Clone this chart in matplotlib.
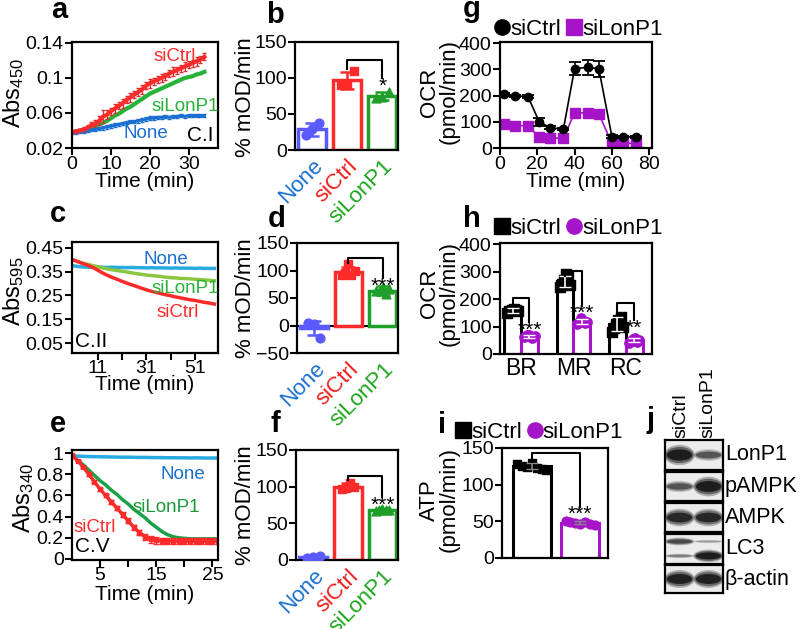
import matplotlib
matplotlib.use('Agg')
import matplotlib.pyplot as plt
from matplotlib.patches import Ellipse
from matplotlib.lines import Line2D
import numpy as np

plt.rcParams['font.family'] = ['Liberation Sans', 'DejaVu Sans']
plt.rcParams['mathtext.default'] = 'regular'

# ---- colours
RED = '#ff2a2a'
GREEN = '#1f9e2a'
LGREEN = '#26b33a'
BLUE = '#1a6fd0'
BARBLUE = '#5a5aff'
SKY = '#29abe2'
YGREEN = '#8cc63f'
PURPLE = '#a514c8'

# ---- panel a (complex I)
a_time = [0, 1, 2, 3, 4, 5, 6, 7, 8, 9, 10, 11, 12, 13, 14, 15, 16, 17, 18, 19, 20,
          21, 22, 23, 24, 25, 26, 27, 28, 29, 30, 31, 32, 33, 34]
a_ctrl = [0.038, 0.039, 0.040, 0.041, 0.043, 0.046, 0.048, 0.051, 0.056, 0.058, 0.062,
          0.065, 0.068, 0.071, 0.075, 0.078, 0.081, 0.084, 0.087, 0.091, 0.094, 0.096,
          0.098, 0.100, 0.102, 0.105, 0.107, 0.109, 0.111, 0.113, 0.115, 0.117, 0.119,
          0.121, 0.124]
a_ctrl_err = [0.001, 0.002, 0.002, 0.003, 0.003, 0.004, 0.004, 0.005, 0.007, 0.005, 0.004,
              0.005, 0.004, 0.005, 0.004, 0.005, 0.004, 0.005, 0.005, 0.004, 0.005, 0.004,
              0.004, 0.005, 0.004, 0.004, 0.005, 0.004, 0.004, 0.005, 0.004, 0.004, 0.005,
              0.004, 0.004]
a_lon = [0.038, 0.039, 0.040, 0.041, 0.042, 0.043, 0.045, 0.047, 0.049, 0.051, 0.054,
         0.057, 0.059, 0.062, 0.065, 0.067, 0.070, 0.073, 0.076, 0.079, 0.082, 0.084,
         0.086, 0.088, 0.090, 0.092, 0.094, 0.096, 0.098, 0.100, 0.101, 0.102, 0.104,
         0.105, 0.107]
a_none = [0.038, 0.038, 0.039, 0.039, 0.040, 0.041, 0.041, 0.042, 0.043, 0.044, 0.045,
          0.046, 0.047, 0.048, 0.049, 0.050, 0.050, 0.051, 0.052, 0.053, 0.054, 0.054,
          0.055, 0.055, 0.056, 0.055, 0.056, 0.056, 0.057, 0.056, 0.057, 0.057, 0.057,
          0.057, 0.057]

# ---- panel c (complex II)
c_time = [1, 3, 5, 7, 9, 11, 13, 15, 17, 19, 21, 23, 25, 27, 29, 31, 33, 35, 37, 39,
          41, 43, 45, 47, 49, 51, 53, 55, 57, 59]
c_none = [0.375, 0.372, 0.370, 0.369, 0.369, 0.370, 0.369, 0.368, 0.369, 0.368, 0.368,
          0.367, 0.368, 0.367, 0.367, 0.366, 0.367, 0.366, 0.366, 0.366, 0.365, 0.366,
          0.365, 0.365, 0.365, 0.364, 0.365, 0.364, 0.364, 0.364]
c_lon = [0.398, 0.392, 0.386, 0.381, 0.376, 0.371, 0.366, 0.362, 0.358, 0.355, 0.352,
         0.349, 0.345, 0.342, 0.339, 0.336, 0.334, 0.332, 0.330, 0.327, 0.325, 0.324,
         0.322, 0.321, 0.320, 0.318, 0.317, 0.315, 0.314, 0.312]
c_ctrl = [0.400, 0.392, 0.384, 0.377, 0.368, 0.357, 0.345, 0.335, 0.326, 0.318, 0.310,
          0.302, 0.295, 0.288, 0.281, 0.274, 0.268, 0.263, 0.258, 0.253, 0.249, 0.244,
          0.240, 0.236, 0.232, 0.229, 0.225, 0.221, 0.218, 0.214]

# ---- panel e (complex V)
e_time = [0, 1, 2, 3, 4, 5, 6, 7, 8, 9, 10, 11, 12, 13, 14, 15, 16, 17, 18, 19, 20,
          21, 22, 23, 24, 25, 26]
e_ctrl = [0.98, 0.93, 0.87, 0.80, 0.73, 0.66, 0.60, 0.54, 0.48, 0.42, 0.36, 0.30, 0.25,
          0.21, 0.185, 0.175, 0.172, 0.171, 0.170, 0.170, 0.170, 0.169, 0.170, 0.169,
          0.170, 0.169, 0.170]
e_ctrl_err = [0.005, 0.008, 0.010, 0.012, 0.014, 0.015, 0.016, 0.018, 0.020, 0.022,
              0.024, 0.025, 0.026, 0.028, 0.030, 0.030, 0.030, 0.031, 0.030, 0.031,
              0.030, 0.031, 0.030, 0.030, 0.031, 0.030, 0.030]
e_lon = [0.98, 0.93, 0.89, 0.84, 0.79, 0.74, 0.70, 0.65, 0.61, 0.56, 0.52, 0.47, 0.43,
         0.39, 0.34, 0.30, 0.26, 0.23, 0.21, 0.20, 0.195, 0.19, 0.19, 0.19, 0.19, 0.19,
         0.19]
e_none = [0.975, 0.972, 0.970, 0.968, 0.967, 0.966, 0.965, 0.964, 0.963, 0.962, 0.962,
          0.961, 0.960, 0.960, 0.959, 0.958, 0.958, 0.957, 0.957, 0.956, 0.956, 0.955,
          0.956, 0.955, 0.954, 0.954, 0.954]

# ---- bar panels b, d, f (% mOD/min)
groups = ['None', 'siCtrl', 'siLonP1']
b_mean = [29, 97, 75]
b_err = [9, 12, 6]
b_pts = [[21, 29, 37], [90, 92, 110], [72, 73, 80]]
d_mean = [-5, 97, 63]
d_err = [13, 9, 8]
d_pts = [[4, 2, -22], [92, 95, 112, 92, 100], [62, 65, 70, 58, 66]]
f_mean = [4, 100, 68]
f_err = [1, 5, 1.5]
f_pts = [[3, 4, 5], [97, 98, 105, 100], [67, 68, 69, 68, 68]]

# ---- panel g (OCR trace)
g_time = [2, 8, 15, 21, 27, 34, 40, 47, 53, 60, 66, 73]
g_ctrl = [205, 198, 196, 100, 77, 72, 303, 307, 302, 43, 42, 42]
g_ctrl_err = [5, 5, 5, 15, 5, 5, 25, 30, 30, 5, 4, 4]
g_lon = [92, 85, 85, 42, 38, 37, 135, 133, 130, 18, 18, 18]

# ---- panel h (OCR summary)
h_cats = ['BR', 'MR', 'RC']
h_ctrl = [158, 265, 108]
h_ctrl_err = [8, 20, 25]
h_ctrl_pts = [[150, 155, 160, 165, 160, 155], [245, 255, 270, 290, 280, 250],
              [80, 95, 110, 125, 135, 100]]
h_lon = [65, 118, 50]
h_lon_err = [5, 8, 8]
h_lon_pts = [[62, 68, 70, 60, 65], [110, 115, 130, 120, 112, 118], [40, 48, 55, 60, 45, 52]]

# ---- panel i (ATP)
i_mean = [125, 48]
i_err = [4, 2]
i_pts = [[128, 126, 124, 130, 123, 122, 120], [50, 49, 48, 47, 49, 46, 45]]

# ---- panel j (blot band intensities, lanes siCtrl / siLonP1)
blot_rows = ['LonP1', 'pAMPK', 'AMPK', 'LC3', 'β-actin']
blot_lonp1 = [0.95, 0.55]
blot_pampk = [0.55, 0.95]
blot_ampk = [0.85, 0.85]
blot_lc3_upper = [0.6, 0.25]
blot_lc3_lower = [0.35, 0.95]
blot_actin = [0.9, 0.9]

W, H = 800, 629
TICK = 14
XLAB = 15
YLAB = 16
fig = plt.figure(figsize=(8, 6.29), dpi=100)


def px_axes(l, t, r, b):
    return fig.add_axes([l / W, 1 - b / H, (r - l) / W, (b - t) / H])


def ftext(x, y, s, **kw):
    fig.text(x / W, 1 - y / H, s, **kw)


def style(ax):
    for s in ax.spines.values():
        s.set_linewidth(1.6)
    ax.tick_params(direction='out', length=5, width=1.5, labelsize=TICK, pad=1)


def bar_panel(ax, means, errs, pts, ylim, yticks):
    colors = [BARBLUE, RED, GREEN]
    markers = ['o', 's', '^']
    for k in range(len(means)):
        ax.bar(k, means[k], width=0.8, facecolor='white', edgecolor=colors[k],
               linewidth=2.5, zorder=2)
        ax.errorbar(k, means[k], yerr=errs[k], color=colors[k], capsize=5, lw=1.8,
                    capthick=1.8, zorder=3)
        n = len(pts[k])
        ax.scatter(k + np.linspace(-0.18, 0.18, n), pts[k], marker=markers[k], s=40,
                   color=colors[k], zorder=4)
    ax.set_xlim(-0.5, 2.45)
    ax.set_ylim(*ylim)
    ax.set_yticks(yticks)
    style(ax)
    ax.set_xticks(range(3))
    ax.set_xticklabels(groups, rotation=45, ha='right', rotation_mode='anchor', fontsize=16)
    for lab, c in zip(ax.get_xticklabels(), [BLUE, '#ee1c1c', '#1fa51f']):
        lab.set_color(c)
    ax.tick_params(axis='x', length=0, pad=4)


def bracket(ax, x0, x1, top, y0, y1, star):
    ax.plot([x0, x0, x1, x1], [y0, top, top, y1], color='black', lw=1.5, zorder=5)
    ax.annotate(star, (x1, y1), xytext=(0, 1), textcoords='offset points',
                ha='center', va='top', fontsize=15, zorder=6)


def legend2(ax, m1, c1, m2, c2, anchor, loc='lower center'):
    handles = [Line2D([], [], marker=m1, color=c1, ls='none', ms=11),
               Line2D([], [], marker=m2, color=c2, ls='none', ms=11)]
    ax.legend(handles, ['siCtrl', 'siLonP1'], ncol=2, frameon=False, fontsize=16,
              loc=loc, bbox_to_anchor=anchor, handlelength=0.6,
              handletextpad=0.05, columnspacing=0.3, borderaxespad=0, borderpad=0.1)


# ================= panel a
ax = px_axes(72, 42, 218, 148)
ax.errorbar(a_time, a_none, yerr=0.002, color=BLUE, lw=2.2, elinewidth=0.8, capsize=1.5)
ax.plot(a_time, a_lon, color=LGREEN, lw=3)
ax.errorbar(a_time, a_ctrl, yerr=a_ctrl_err, color=RED, lw=3, elinewidth=0.9,
            capsize=1.5, ecolor='#d83030')
ax.set_xlim(0, 37.5)
ax.set_ylim(0.02, 0.141)
ax.set_xticks([0, 10, 20, 30])
ax.set_yticks([0.02, 0.06, 0.1, 0.14])
ax.set_yticklabels(['0.02', '0.06', '0.1', '0.14'])
style(ax)
ax.text(26.4, 0.125, 'siCtrl', color=RED, fontsize=13.5, ha='center', va='center')
ax.text(29.2, 0.067, 'siLonP1', color=LGREEN, fontsize=13.5, ha='center', va='center')
ax.text(19.1, 0.036, 'None', color=BLUE, fontsize=13.5, ha='center', va='center')
ax.text(0.97, 0.03, 'C.I', transform=ax.transAxes, fontsize=15, ha='right', va='bottom')
ftext(14, 93, 'Abs$_{450}$', rotation=90, ha='center', va='center', fontsize=17)
ftext(145, 181, 'Time (min)', ha='center', va='center', fontsize=XLAB)

# ================= panel b
ax = px_axes(295, 42, 398, 150)
bar_panel(ax, b_mean, b_err, b_pts, (0, 150), [0, 50, 100, 150])
bracket(ax, 1, 2, 125, 113, 100, '*')
ftext(245, 97, '% mOD/min', rotation=90, ha='center', va='center', fontsize=YLAB)

# ================= panel c
ax = px_axes(72, 242, 218, 353)
ax.plot(c_time, c_none, color=SKY, lw=2.5)
ax.plot(c_time, c_lon, color=YGREEN, lw=2.5)
ax.plot(c_time, c_ctrl, color=RED, lw=2.5)
ax.set_xlim(0.5, 60.5)
ax.set_ylim(0.008, 0.475)
ax.set_xticks([11, 31, 51])
ax.set_xticks([21, 41], minor=True)
ax.set_yticks([0.05, 0.15, 0.25, 0.35, 0.45])
style(ax)
ax.tick_params(axis='x', pad=0)
ax.tick_params(which='minor', direction='out', length=5, width=1.5)
ax.text(39, 0.40, 'None', color=BLUE, fontsize=13.5, ha='center', va='center')
ax.text(47, 0.28, 'siLonP1', color=LGREEN, fontsize=13.5, ha='center', va='center')
ax.text(44, 0.18, 'siCtrl', color=RED, fontsize=13.5, ha='center', va='center')
ax.text(0.02, 0.02, 'C.II', transform=ax.transAxes, fontsize=15, ha='left', va='bottom')
ftext(14, 291, 'Abs$_{595}$', rotation=90, ha='center', va='center', fontsize=17)
ftext(145, 385, 'Time (min)', ha='center', va='center', fontsize=XLAB)

# ================= panel d
ax = px_axes(297, 243, 398, 353)
bar_panel(ax, d_mean, d_err, d_pts, (-50, 150), [-50, 0, 50, 100, 150])
ax.axhline(0, color='black', lw=1.5, zorder=1)
bracket(ax, 1, 2, 123, 114, 86, '***')
ftext(245, 298, '% mOD/min', rotation=90, ha='center', va='center', fontsize=YLAB)

# ================= panel e
ax = px_axes(72, 450, 218, 560)
ax.plot(e_time, e_none, color=SKY, lw=2.5)
ax.plot(e_time, e_lon, color='#1aa24a', lw=2.5)
ax.errorbar(e_time, e_ctrl, yerr=e_ctrl_err, color=RED, lw=2.5, elinewidth=1,
            capsize=2, marker='s', ms=3)
ax.set_xlim(0, 26)
ax.set_ylim(-0.01, 1.03)
ax.set_xticks([5, 15, 25])
ax.set_xticks([10, 20], minor=True)
ax.set_yticks([0, 0.2, 0.4, 0.6, 0.8, 1])
ax.set_yticklabels(['0', '0.2', '0.4', '0.6', '0.8', '1'])
style(ax)
ax.tick_params(axis='x', pad=0)
ax.tick_params(which='minor', direction='out', length=5, width=1.5)
ax.text(19.8, 0.80, 'None', color=BLUE, fontsize=13.5, ha='center', va='center')
ax.text(16.8, 0.49, 'siLonP1', color='#1a9a3a', fontsize=13.5, ha='center', va='center')
ax.text(4.1, 0.30, 'siCtrl', color=RED, fontsize=13.5, ha='center', va='center')
ax.text(0.02, 0.04, 'C.V', transform=ax.transAxes, fontsize=15, ha='left', va='bottom')
ftext(24, 498, 'Abs$_{340}$', rotation=90, ha='center', va='center', fontsize=17)
ftext(145, 594, 'Time (min)', ha='center', va='center', fontsize=XLAB)

# ================= panel f
ax = px_axes(296, 450, 398, 560)
bar_panel(ax, f_mean, f_err, f_pts, (0, 150), [0, 50, 100, 150])
bracket(ax, 1, 2, 115, 109, 86, '***')
ftext(245, 505, '% mOD/min', rotation=90, ha='center', va='center', fontsize=YLAB)

# ================= panel g
ax = px_axes(500, 42, 652, 148)
ax.errorbar(g_time, g_ctrl, yerr=g_ctrl_err, color='black', marker='o', ms=6, lw=1.2,
            capsize=4, capthick=1.3, zorder=3)
ax.plot(g_time, g_lon, color=PURPLE, marker='s', ms=6.5, lw=1.2, zorder=2)
ax.set_xlim(0, 81.5)
ax.set_ylim(0, 404)
ax.set_xticks([0, 20, 40, 60, 80])
ax.set_yticks([0, 100, 200, 300, 400])
style(ax)
legend2(ax, 'o', 'black', 's', PURPLE, (0.52, 1.0))
ftext(439, 92, 'OCR\n(pmol/min)', rotation=90, ha='center', va='center', fontsize=YLAB,
      linespacing=0.9)
ftext(576, 182, 'Time (min)', ha='center', va='center', fontsize=XLAB)

# ================= panel h
ax = px_axes(500, 243, 652, 354)
xh = np.arange(3)
wd = 0.32
for k in range(3):
    ax.bar(xh[k] - wd / 2, h_ctrl[k], width=wd, facecolor='white', edgecolor='black',
           linewidth=2.2, zorder=2)
    ax.bar(xh[k] + wd / 2, h_lon[k], width=wd, facecolor='white', edgecolor=PURPLE,
           linewidth=2.2, zorder=2)
    ax.scatter(xh[k] - wd / 2 + np.linspace(-0.1, 0.1, len(h_ctrl_pts[k])), h_ctrl_pts[k],
               marker='s', s=45, color='black', zorder=4)
    ax.scatter(xh[k] + wd / 2 + np.linspace(-0.1, 0.1, len(h_lon_pts[k])), h_lon_pts[k],
               marker='o', s=45, color=PURPLE, zorder=4)
    ax.errorbar(xh[k] - wd / 2, h_ctrl[k], yerr=h_ctrl_err[k], color='white', lw=1.2,
                capsize=4, zorder=5)
    ax.errorbar(xh[k] + wd / 2, h_lon[k], yerr=h_lon_err[k], color='white', lw=1.2,
                capsize=4, zorder=5)
ax.set_xlim(-0.4, 2.5)
ax.set_ylim(0, 404)
ax.set_yticks([0, 100, 200, 300, 400])
style(ax)
ax.set_xticks(xh)
ax.set_xticklabels(h_cats, fontsize=16.5)
ax.tick_params(axis='x', length=0, pad=2)
bracket(ax, -wd / 2, wd / 2, 205, 176, 115, '***')
bracket(ax, 1 - wd / 2, 1 + wd / 2, 303, 285, 176, '***')
bracket(ax, 2 - wd / 2, 2 + wd / 2, 184, 158, 122, '**')
legend2(ax, 's', 'black', 'o', PURPLE, (0.52, 1.02))
ftext(439, 293, 'OCR\n(pmol/min)', rotation=90, ha='center', va='center', fontsize=YLAB,
      linespacing=0.9)

# ================= panel i
ax = px_axes(502, 448, 608, 558)
icol = ['black', PURPLE]
imark = ['s', 'o']
for k in range(2):
    ax.bar(k, i_mean[k], width=0.8, facecolor='white', edgecolor=icol[k], linewidth=2.2,
           zorder=2)
    ax.scatter(k + np.linspace(-0.3, 0.3, len(i_pts[k])), i_pts[k], marker=imark[k], s=40,
               color=icol[k], zorder=4)
    ax.errorbar(k, i_mean[k], yerr=i_err[k], color='#888888', lw=1.2, capsize=4, zorder=5)
ax.set_xlim(-0.62, 1.58)
ax.set_ylim(0, 150)
ax.set_yticks([0, 50, 100, 150])
ax.set_xticks([])
style(ax)
bracket(ax, 0, 1, 143, 131, 70, '***')
legend2(ax, 's', 'black', 'o', PURPLE, (-0.45, 1.025), loc='lower left')
ftext(439, 500, 'ATP\n(pmol/min)', rotation=90, ha='center', va='center', fontsize=YLAB,
      linespacing=0.9)

# ================= panel j (western blot)
blot_boxes = [(440, 470), (472, 501), (503, 532), (534, 564), (565, 593)]
blot_bands = [[(0.5, blot_lonp1)], [(0.5, blot_pampk)], [(0.5, blot_ampk)],
              [(0.75, blot_lc3_upper), (0.27, blot_lc3_lower)], [(0.5, blot_actin)]]
for (t, b), bands, name in zip(blot_boxes, blot_bands, blot_rows):
    bx = px_axes(665, t, 723, b)
    bx.set_facecolor('#ececec')
    bx.set_xlim(0, 2)
    bx.set_ylim(0, 1)
    bx.set_xticks([])
    bx.set_yticks([])
    for s in bx.spines.values():
        s.set_linewidth(1.6)
    for yc, inten in bands:
        hmax = 0.55 if len(bands) == 1 else 0.34
        for lane, v in zip([0.5, 1.5], inten):
            for sc, al in [(1.0, 0.3), (0.8, 0.5), (0.55, 0.9)]:
                bx.add_patch(Ellipse((lane, yc), 1.0 * (0.65 + 0.4 * sc), hmax * v * sc * 1.3,
                                     facecolor='#111111', edgecolor='none', alpha=al * v))
    ftext(725, (t + b) / 2, name, ha='left', va='center', fontsize=15.5)
ftext(681, 438, 'siCtrl', rotation=90, ha='center', va='bottom', fontsize=14)
ftext(708, 438, 'siLonP1', rotation=90, ha='center', va='bottom', fontsize=14)

# ================= panel letters
for let, x, y in [('a', 59, 18), ('b', 275, 23), ('g', 472, 17), ('c', 58, 222),
                  ('d', 277, 227), ('h', 472, 227), ('e', 58, 432), ('f', 275, 432),
                  ('i', 442, 433), ('j', 651, 428)]:
    ftext(x, y, let, ha='center', va='baseline', fontsize=21, fontweight='bold')

fig.savefig('out.png', dpi=100)
